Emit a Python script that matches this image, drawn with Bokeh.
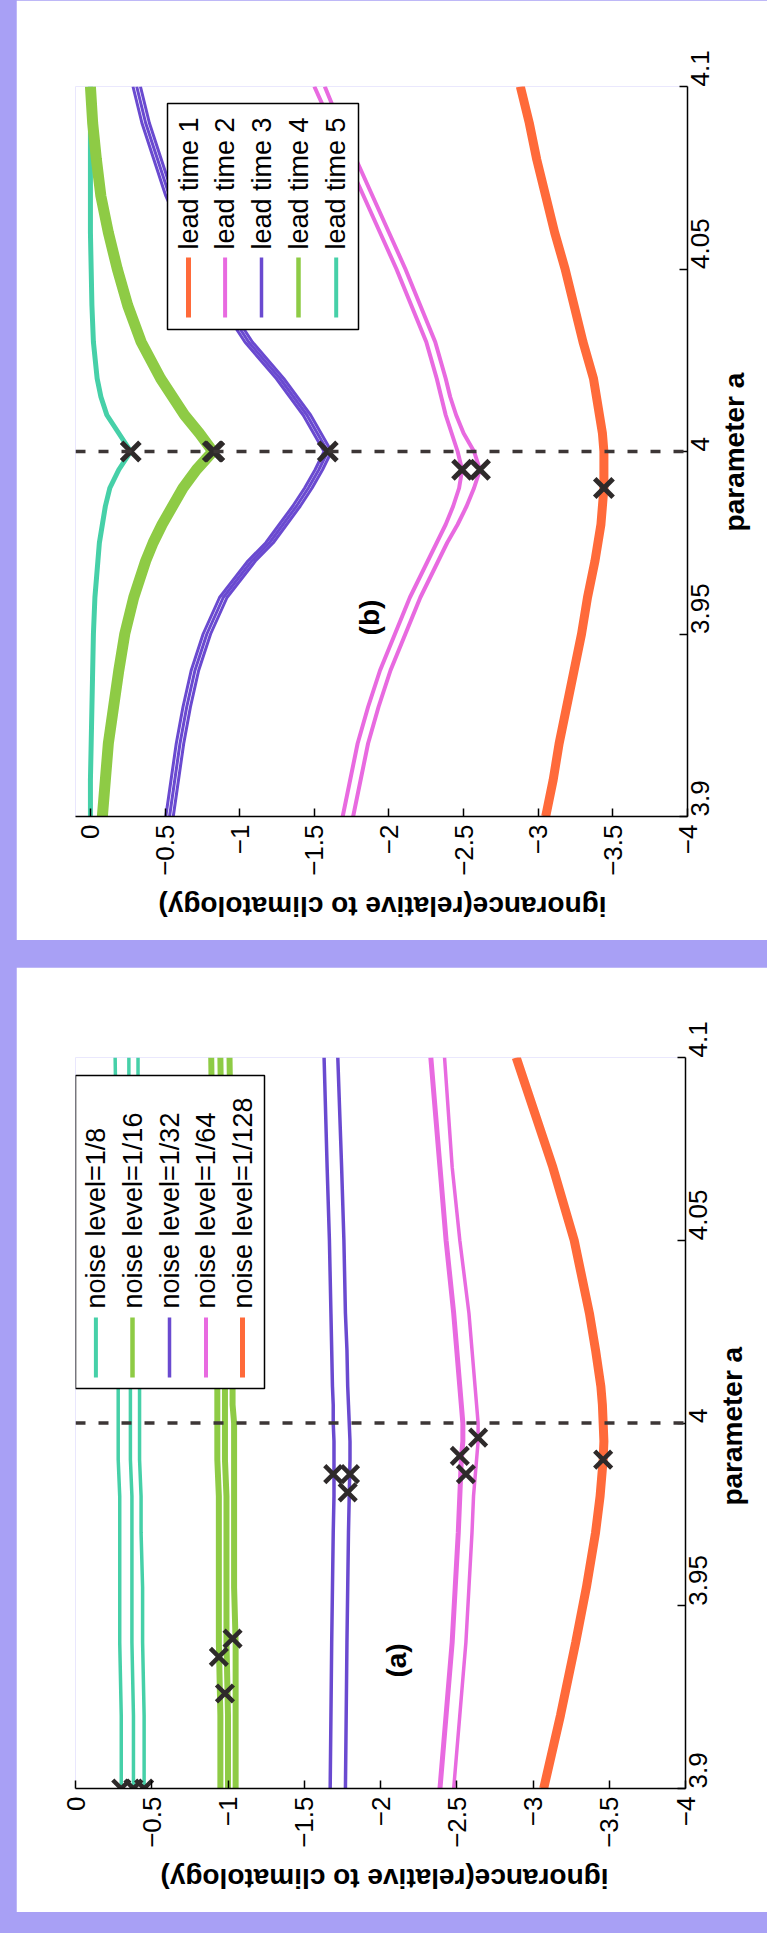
import math
from bokeh.plotting import figure
from bokeh.models import Range1d, FixedTicker, Span, Label, Spacer, LinearAxis
from bokeh.layouts import row, column
from bokeh.core.properties import value
from bokeh.embed import file_html
from bokeh.resources import INLINE

# ---------------------------------------------------------------- data
# panel (b): ignorance for five lead times
param_b = [3.90, 3.91, 3.92, 3.93, 3.94, 3.95, 3.96, 3.97, 3.975, 3.98, 3.985, 3.99, 3.995,
           4.00, 4.005, 4.01, 4.015, 4.02, 4.03, 4.04, 4.05, 4.06, 4.07, 4.08, 4.09, 4.10]
b_lead1 = [-3.05, -3.10, -3.14, -3.19, -3.24, -3.29, -3.33, -3.38, -3.40, -3.42, -3.43, -3.44, -3.44,
           -3.44, -3.43, -3.41, -3.39, -3.37, -3.30, -3.24, -3.18, -3.11, -3.05, -2.99, -2.94, -2.88]
b_lead2_1 = [-1.69, -1.74, -1.79, -1.86, -1.94, -2.04, -2.14, -2.26, -2.32, -2.38, -2.43, -2.47, -2.49,
             -2.46, -2.42, -2.38, -2.35, -2.32, -2.25, -2.15, -2.05, -1.94, -1.83, -1.72, -1.61, -1.50]
b_lead2_2 = [-1.76, -1.81, -1.86, -1.93, -2.01, -2.11, -2.21, -2.33, -2.39, -2.46, -2.52, -2.57, -2.61,
             -2.57, -2.50, -2.45, -2.41, -2.38, -2.31, -2.21, -2.11, -2.00, -1.89, -1.78, -1.67, -1.57]
b_lead3_1 = [-0.505, -0.54, -0.575, -0.62, -0.675, -0.755, -0.865, -1.055, -1.175, -1.265, -1.355, -1.435, -1.505,
             -1.565, -1.495, -1.425, -1.335, -1.245, -1.035, -0.875, -0.735, -0.615, -0.505, -0.425, -0.345, -0.285]
b_lead3_2 = [-0.53, -0.565, -0.60, -0.645, -0.70, -0.78, -0.89, -1.08, -1.20, -1.29, -1.38, -1.46, -1.53,
             -1.59, -1.52, -1.45, -1.36, -1.27, -1.06, -0.90, -0.76, -0.64, -0.53, -0.45, -0.37, -0.31]
b_lead3_3 = [-0.555, -0.59, -0.625, -0.67, -0.725, -0.805, -0.915, -1.105, -1.225, -1.315, -1.405, -1.485, -1.555,
             -1.615, -1.545, -1.475, -1.385, -1.295, -1.085, -0.925, -0.785, -0.665, -0.555, -0.475, -0.395, -0.335]
b_lead4 = [-0.08, -0.10, -0.12, -0.155, -0.19, -0.23, -0.29, -0.37, -0.42, -0.48, -0.55, -0.62, -0.71,
           -0.82, -0.73, -0.63, -0.55, -0.47, -0.34, -0.25, -0.18, -0.12, -0.07, -0.04, -0.015, 0.0]
b_lead5 = [0.0, 0.0, -0.005, -0.01, -0.015, -0.02, -0.03, -0.05, -0.06, -0.08, -0.10, -0.13, -0.19,
           -0.27, -0.19, -0.11, -0.07, -0.045, -0.02, -0.01, -0.005, 0.0, 0.0, 0.0, 0.0, 0.0]

b_min_a = [4.0, 4.0, 4.0, 4.0, 3.995, 3.995, 3.99]
b_min_v = [-0.27, -0.82, -0.83, -1.59, -2.49, -2.61, -3.44]

# panel (a): ignorance for five noise levels
param_a = [3.90, 3.92, 3.94, 3.955, 3.97, 3.98, 3.99, 3.995, 4.00, 4.005, 4.01, 4.02, 4.03, 4.05, 4.07, 4.10]
a_n8_1 = [-0.30, -0.30, -0.29, -0.29, -0.29, -0.29, -0.28, -0.28, -0.28, -0.28, -0.28, -0.28, -0.27, -0.27, -0.27, -0.26]
a_n8_2 = [-0.38, -0.38, -0.37, -0.37, -0.37, -0.37, -0.36, -0.36, -0.36, -0.36, -0.36, -0.36, -0.36, -0.35, -0.35, -0.35]
a_n8_3 = [-0.45, -0.45, -0.44, -0.44, -0.43, -0.43, -0.42, -0.42, -0.42, -0.42, -0.42, -0.42, -0.42, -0.42, -0.41, -0.41]
a_n16_1 = [-0.95, -0.95, -0.94, -0.94, -0.94, -0.94, -0.93, -0.93, -0.93, -0.93, -0.93, -0.92, -0.92, -0.91, -0.90, -0.89]
a_n16_2 = [-1.00, -1.00, -0.99, -0.99, -0.99, -0.99, -0.98, -0.98, -0.98, -0.98, -0.98, -0.97, -0.97, -0.96, -0.96, -0.95]
a_n16_3 = [-1.05, -1.05, -1.05, -1.04, -1.04, -1.04, -1.04, -1.04, -1.04, -1.03, -1.03, -1.03, -1.03, -1.02, -1.02, -1.01]
a_n32_1 = [-1.67, -1.675, -1.68, -1.685, -1.69, -1.695, -1.695, -1.695, -1.69, -1.69, -1.685, -1.68, -1.675, -1.665, -1.65, -1.63]
a_n32_2 = [-1.77, -1.775, -1.78, -1.785, -1.79, -1.795, -1.80, -1.80, -1.795, -1.79, -1.785, -1.78, -1.77, -1.76, -1.745, -1.72]
a_n64_1 = [-2.39, -2.43, -2.47, -2.49, -2.51, -2.52, -2.53, -2.54, -2.54, -2.53, -2.52, -2.50, -2.48, -2.43, -2.39, -2.33]
a_n64_2 = [-2.48, -2.52, -2.56, -2.58, -2.60, -2.61, -2.63, -2.64, -2.64, -2.63, -2.62, -2.60, -2.58, -2.52, -2.47, -2.42]
a_n128 = [-3.07, -3.18, -3.28, -3.35, -3.41, -3.44, -3.46, -3.465, -3.46, -3.455, -3.445, -3.41, -3.37, -3.27, -3.13, -2.89]

a_min_a = [3.90, 3.90, 3.90, 3.936, 3.941, 3.926, 3.986, 3.986, 3.981, 3.996, 3.991, 3.986, 3.99]
a_min_v = [-0.30, -0.38, -0.45, -0.94, -1.03, -0.98, -1.69, -1.80, -1.785, -2.64, -2.52, -2.56, -3.46]

lead_labels = ["lead time 1", "lead time 2", "lead time 3", "lead time 4", "lead time 5"]
noise_labels = ["noise level=1/8", "noise level=1/16", "noise level=1/32", "noise level=1/64", "noise level=1/128"]

ign_ticks = [0, -0.5, -1, -1.5, -2, -2.5, -3, -3.5, -4]
ign_tick_labels = ["0", "\u22120.5", "\u22121", "\u22121.5", "\u22122", "\u22122.5", "\u22123", "\u22123.5", "\u22124"]
par_ticks = [3.9, 3.95, 4.0, 4.05, 4.1]
par_tick_labels = ["3.9", "3.95", "4", "4.05", "4.1"]
x_title = "parameter a"
y_title = "ignorance(relative to climatology)"

# ---------------------------------------------------------------- style
FONT = "Liberation Sans"
PAGE_BG = "#a8a0f5"
C_ORANGE = "#ff6a3a"
C_MAGENTA = "#e86ae0"
C_PURPLE = "#6a4ad0"
C_GREEN = "#8ecb45"
C_TEAL = "#46d0a8"
C_DARK = "#2e2a2a"


def style_axis(ax, size):
    ax.axis_line_color = "black"
    ax.axis_line_width = 1.5
    ax.major_tick_line_color = "black"
    ax.major_tick_line_width = 1.5
    ax.major_tick_in = 8
    ax.major_tick_out = 0
    ax.minor_tick_line_color = None
    ax.major_label_text_font = FONT
    ax.major_label_text_font_size = size
    ax.major_label_text_color = "black"


def title_axis(p, side, pos, text, orient, standoff):
    # an axis without line/ticks whose single label carries the axis title
    ax = LinearAxis(ticker=FixedTicker(ticks=[pos]), major_label_overrides={pos: text},
                    axis_line_color=None, major_tick_line_color=None, minor_tick_line_color=None,
                    major_tick_in=0, major_tick_out=0, minor_tick_in=0, minor_tick_out=0,
                    major_label_orientation=orient, major_label_standoff=standoff,
                    major_label_text_font=FONT, major_label_text_font_size="28px",
                    major_label_text_font_style="bold", major_label_text_color="black")
    p.add_layout(ax, side)


def make_panel(page_left, page_top, fw, fh, bl, br, bt, bb, v_start):
    p = figure(frame_width=fw, frame_height=fh,
               min_border_left=bl, min_border_right=br, min_border_top=bt, min_border_bottom=bb,
               x_range=Range1d(v_start, -4), y_range=Range1d(3.9, 4.1),
               x_axis_location="below", y_axis_location="right",
               toolbar_location=None, output_backend="svg",
               background_fill_color="white", border_fill_color="white",
               outline_line_color=None)
    p.grid.visible = False
    for ax in (p.xaxis[0], p.yaxis[0]):
        style_axis(ax, "26px")
        ax.major_label_orientation = math.pi / 2
    p.xaxis.ticker = FixedTicker(ticks=ign_ticks)
    p.xaxis.major_label_overrides = {float(t): s for t, s in zip(ign_ticks, ign_tick_labels)}
    p.xaxis.major_label_standoff = 8
    p.yaxis.ticker = FixedTicker(ticks=par_ticks)
    p.yaxis.major_label_overrides = {float(t): s for t, s in zip(par_ticks, par_tick_labels)}
    p.yaxis.major_label_standoff = 12

    fl = page_left + bl
    ft = page_top + bt

    def vx(px):
        return v_start - (px - fl) * (v_start + 4) / fw

    def ay(py):
        return 4.1 - (py - ft) * 0.2 / fh

    return p, vx, ay


def add_titles(p, vx, ay, ign_left_px, par_bottom_py):
    title_axis(p, "below", round(vx(ign_left_px), 4), y_title, math.pi, 28)
    title_axis(p, "right", round(ay(par_bottom_py), 4), x_title, math.pi / 2, 14)


def add_tag(p, vx, ay, tag, tag_xy):
    p.add_layout(Label(x=vx(tag_xy[0]), y=ay(tag_xy[1]), text=tag, angle=math.pi / 2,
                       text_align="center", text_baseline="middle", text_font=FONT,
                       text_font_size="28px", text_font_style="bold", text_color="black"))


def add_legend(p, vx, ay, box, xs, seg_y, text_y, labels, colors, widths):
    p.quad(left=[vx(box[0])], right=[vx(box[2])], top=[ay(box[1])], bottom=[ay(box[3])],
           fill_color="white", line_color="black", line_width=1.5)
    ex = [vx(x) for x in xs]
    p.segment(x0=ex, x1=ex, y0=[ay(seg_y[0])] * len(ex), y1=[ay(seg_y[1])] * len(ex),
              line_color=colors, line_width=widths)
    p.text(x=ex, y=[ay(text_y)] * len(ex), text=labels, angle=math.pi / 2,
           text_align="left", text_baseline="middle", text_font=value(FONT),
           text_font_size=value("27px"), text_color="black")


def dashed(p):
    p.add_layout(Span(location=4.0, dimension="width", line_color="#3c3636",
                      line_width=3.5, line_dash="10 13"))


# ---------------------------------------------------------------- panel (b)
pb, vxb, ayb = make_panel(16, 0, 612, 730, 57, 82, 86, 124, 0.1)
pb.line(b_lead5, param_b, line_color=C_TEAL, line_width=5)
pb.line(b_lead4, param_b, line_color=C_GREEN, line_width=11)
for arr in (b_lead3_1, b_lead3_2, b_lead3_3):
    pb.line(arr, param_b, line_color=C_PURPLE, line_width=3)
for arr in (b_lead2_1, b_lead2_2):
    pb.line(arr, param_b, line_color=C_MAGENTA, line_width=4)
pb.line(b_lead1, param_b, line_color=C_ORANGE, line_width=9)
dashed(pb)
pb.scatter(b_min_v, b_min_a, marker="x", size=26, line_width=5, line_color=C_DARK)
add_legend(pb, vxb, ayb, (165, 103, 356, 329), [186, 222.6, 259, 296, 333.7], (257, 317), 249,
           lead_labels, [C_ORANGE, C_MAGENTA, C_PURPLE, C_GREEN, C_TEAL], [5, 4, 3.5, 4.5, 4])
add_tag(pb, vxb, ayb, "(b)", (367, 617))
add_titles(pb, vxb, ayb, 156, 531)

# ---------------------------------------------------------------- panel (a)
pa, vxa, aya = make_panel(16, 967, 610, 731, 59, 82, 90, 124, 0.0)
for arr in (a_n8_1, a_n8_2, a_n8_3):
    pa.line(arr, param_a, line_color=C_TEAL, line_width=3.5)
for arr in (a_n16_1, a_n16_2, a_n16_3):
    pa.line(arr, param_a, line_color=C_GREEN, line_width=6)
for arr in (a_n32_1, a_n32_2):
    pa.line(arr, param_a, line_color=C_PURPLE, line_width=3.5)
pa.line(a_n64_1, param_a, line_color=C_MAGENTA, line_width=5)
pa.line(a_n64_2, param_a, line_color=C_MAGENTA, line_width=3.5)
pa.line(a_n128, param_a, line_color=C_ORANGE, line_width=9)
dashed(pa)
pa.scatter(a_min_v, a_min_a, marker="x", size=24, line_width=4.5, line_color=C_DARK)
add_legend(pa, vxa, aya, (75, 1075, 264, 1388), [95.4, 132, 169, 205.5, 242], (1317, 1377), 1308,
           noise_labels, [C_TEAL, C_GREEN, C_PURPLE, C_MAGENTA, C_ORANGE], [4, 4.5, 3.5, 4, 5])
add_tag(pa, vxa, aya, "(a)", (396, 1660))
add_titles(pa, vxa, aya, 160, 1505)

layout = row(Spacer(width=16, height=1912),
             column(pb, Spacer(width=751, height=27), pa, spacing=0), spacing=0)

html = file_html(layout, INLINE, title="ignorance vs parameter a")
html = html.replace("</head>",
                    "<style>html,body{margin:0;padding:0;overflow:hidden;background:%s;}</style></head>" % PAGE_BG, 1)
open("out.html", "w").write(html)
